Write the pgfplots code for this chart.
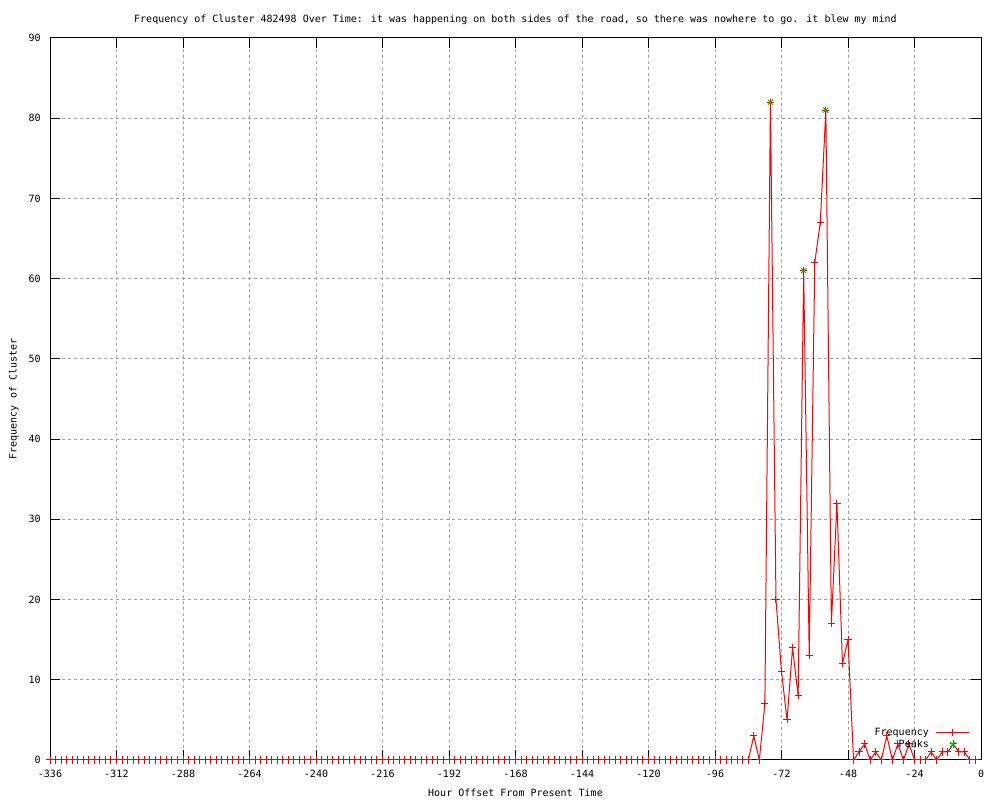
\documentclass[border=0pt]{standalone}
\usepackage{fontspec}
\setmainfont{DejaVu Sans Mono}
\setmonofont{DejaVu Sans Mono}
\usepackage{pgfplots}
\usepackage{pgfplotstable}
\pgfplotsset{compat=1.18}
\pgfplotsset{legend image code/.code={\draw[mark repeat=2,mark phase=2,#1] plot coordinates {(0bp,0bp) (12.5bp,0bp) (25bp,0bp)};}}
\definecolor{gpgreen}{RGB}{0,192,0}
\definecolor{gpgrid}{RGB}{160,160,160}

\pgfplotstableread{
x y
-336 0
-334 0
-332 0
-330 0
-328 0
-326 0
-324 0
-322 0
-320 0
-318 0
-316 0
-314 0
-312 0
-310 0
-308 0
-306 0
-304 0
-302 0
-300 0
-298 0
-296 0
-294 0
-292 0
-290 0
-288 0
-286 0
-284 0
-282 0
-280 0
-278 0
-276 0
-274 0
-272 0
-270 0
-268 0
-266 0
-264 0
-262 0
-260 0
-258 0
-256 0
-254 0
-252 0
-250 0
-248 0
-246 0
-244 0
-242 0
-240 0
-238 0
-236 0
-234 0
-232 0
-230 0
-228 0
-226 0
-224 0
-222 0
-220 0
-218 0
-216 0
-214 0
-212 0
-210 0
-208 0
-206 0
-204 0
-202 0
-200 0
-198 0
-196 0
-194 0
-192 0
-190 0
-188 0
-186 0
-184 0
-182 0
-180 0
-178 0
-176 0
-174 0
-172 0
-170 0
-168 0
-166 0
-164 0
-162 0
-160 0
-158 0
-156 0
-154 0
-152 0
-150 0
-148 0
-146 0
-144 0
-142 0
-140 0
-138 0
-136 0
-134 0
-132 0
-130 0
-128 0
-126 0
-124 0
-122 0
-120 0
-118 0
-116 0
-114 0
-112 0
-110 0
-108 0
-106 0
-104 0
-102 0
-100 0
-98 0
-96 0
-94 0
-92 0
-90 0
-88 0
-86 0
-84 0
-82 3
-80 0
-78 7
-76 82
-74 20
-72 11
-70 5
-68 14
-66 8
-64 61
-62 13
-60 62
-58 67
-56 81
-54 17
-52 32
-50 12
-48 15
-46 0
-44 1
-42 2
-40 0
-38 1
-36 0
-34 3
-32 0
-30 2
-28 0
-26 2
-24 0
-22 0
-20 0
-18 1
-16 0
-14 1
-12 1
-10 2
-8 1
-6 1
-4 0
-2 0
}\freqtable

\pgfplotstableread{
x y
-76 82
-64 61
-56 81
}\peakstable

\begin{document}
\begin{tikzpicture}[font=\fontsize{7.5bp}{9bp}\selectfont]
\begin{axis}[
  scale only axis,
  width=698.25bp, height=541.5bp,
  xmin=-336, xmax=0, ymin=0, ymax=90,
  xtick={-336,-312,-288,-264,-240,-216,-192,-168,-144,-120,-96,-72,-48,-24,0},
  xticklabels={-336,-312,-288,-264,-240,-216,-192,-168,-144,-120,-96,-72,-48,-24,0},
  ytick={0,10,20,30,40,50,60,70,80,90},
  yticklabels={0,10,20,30,40,50,60,70,80,90},
  minor tick num=0,
  tick align=inside,
  major tick length=7.5bp,
  tick style={black, line width=0.75bp},
  axis line style={black, line width=0.75bp},
  grid=major,
  major grid style={gpgrid, line width=0.75bp, dash pattern=on 2.25bp off 2.25bp},
  xticklabel style={anchor=center, inner sep=0pt, yshift=-10.5bp},
  yticklabel style={anchor=east, inner sep=0pt, xshift=-6.75bp},
  every axis title/.style={at={(axis description cs:0.5,1.0259)}, anchor=center},
  every axis x label/.style={at={(axis description cs:0.5,-0.0457)}, anchor=center},
  every axis y label/.style={at={(axis description cs:-0.0387,0.5)}, anchor=center, rotate=90},
  title={Frequency of Cluster 482498 Over Time: it was happening on both sides of the road, so there was nowhere to go. it blew my mind},
  xlabel={Hour Offset From Present Time},
  ylabel={Frequency of Cluster},
  legend plot pos=right,
  legend cell align=right,
  legend style={draw=none, fill=none, inner sep=0pt, outer sep=0pt,
    at={(axis description cs:0.988,0.0464)}, anchor=north east,
    row sep=0pt,
    nodes={inner ysep=1bp, inner xsep=0pt, text height=5.5bp, text depth=1.5bp},
    /tikz/every odd column/.append style={column sep=5bp}},
]
\addplot[color=red, line width=0.75bp, mark=+, mark size=2.7bp, mark options={solid, line width=0.75bp}]
  table[x=x, y=y] {\freqtable};
\addlegendentry{Frequency}
\addplot[only marks, color=gpgreen, mark=x, mark size=2.7bp, mark options={solid, line width=0.75bp}]
  table[x=x, y=y] {\peakstable};
\addlegendentry{Peaks}
\end{axis}
\path[use as bounding box] ([xshift=-37.5bp,yshift=-30bp]current axis.south west) rectangle ([xshift=14.25bp,yshift=28.5bp]current axis.north east);
\end{tikzpicture}
\end{document}
